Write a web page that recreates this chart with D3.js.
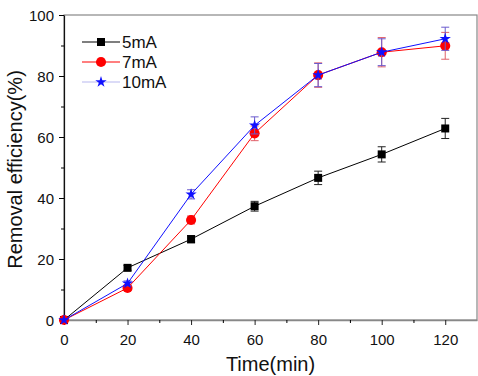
<!DOCTYPE html>
<html>
<head>
<meta charset="utf-8">
<script src="https://cdn.jsdelivr.net/npm/d3@7"></script>
<style>
	body { margin: 0; background: #fff; }
	text { font-family: "Liberation Sans", Arial, sans-serif; }
</style>
</head>
<body>
<div id="chart"></div>
<script>
// ---------- DATA ----------
const times = [0, 20, 40, 60, 80, 100, 120];
const ma5 = [0, 17.1, 26.5, 37.3, 46.6, 54.3, 62.8];
const ma5Err = [0, 0.8, 1.2, 1.6, 2.2, 2.5, 3.3];
const ma7 = [0, 10.5, 32.8, 61.2, 80.3, 87.8, 89.9];
const ma7Err = [0, 0.8, 1.3, 2.4, 4.0, 4.8, 4.4];
const ma10 = [0, 12, 41.2, 63.8, 80.3, 87.8, 92.2];
const ma10Err = [0, 0.8, 1.5, 2.8, 3.8, 4.4, 3.8];
const xTicks = [0, 20, 40, 60, 80, 100, 120];
const yTicks = [0, 20, 40, 60, 80, 100];

const width = 478;
const height = 376;
const margin = { top: 15, right: 1, bottom: 56, left: 64 };

const svg = d3
	.select("#chart")
	.append("svg")
	.attr("width", width)
	.attr("height", height);

const xScale = d3
	.scaleLinear()
	.domain([0, 130])
	.range([margin.left, width - margin.right]);
const yScale = d3
	.scaleLinear()
	.domain([0, 100])
	.range([height - margin.bottom, margin.top]);

// frame
svg.append("rect")
	.attr("x", margin.left)
	.attr("y", margin.top)
	.attr("width", width - margin.right - margin.left)
	.attr("height", height - margin.bottom - margin.top)
	.attr("fill", "none")
	.attr("stroke", "#888")
	.attr("stroke-width", 1.2);

// axes
const xAxis = svg
	.append("g")
	.attr("transform", `translate(0, ${height - margin.bottom})`)
	.call(d3.axisBottom(xScale).tickValues(xTicks).tickSize(5).tickSizeOuter(0));
svg.append("g")
	.attr("transform", `translate(0, ${height - margin.bottom})`)
	.call(d3.axisBottom(xScale).tickValues([10, 30, 50, 70, 90, 110]).tickSize(3).tickFormat(""))
	.call((g) => g.select(".domain").remove());

const yAxis = svg
	.append("g")
	.attr("transform", `translate(${margin.left}, 0)`)
	.call(d3.axisLeft(yScale).tickValues(yTicks).tickSize(5).tickSizeOuter(0));
svg.append("g")
	.attr("transform", `translate(${margin.left}, 0)`)
	.call(d3.axisLeft(yScale).tickValues([10, 30, 50, 70, 90]).tickSize(3).tickFormat(""))
	.call((g) => g.select(".domain").remove());

xAxis.select(".domain").attr("stroke", "#888").attr("stroke-width", 1.5);
xAxis.selectAll(".tick line").attr("stroke", "#222");
yAxis.select(".domain").attr("stroke", "#111").attr("stroke-width", 1.2);
svg.selectAll(".tick text")
	.attr("font-size", 15)
	.attr("fill", "#111")
	.style("font-family", "Liberation Sans, Arial, sans-serif");
xAxis.selectAll(".tick text").attr("dy", "1.1em");
yAxis.selectAll(".tick text").attr("dx", "-2").attr("dy", "0.35em");

// axis titles
svg.append("text")
	.attr("x", (margin.left + width - margin.right) / 2)
	.attr("y", 371)
	.attr("text-anchor", "middle")
	.attr("font-size", 20)
	.attr("fill", "#111")
	.text("Time(min)");
svg.append("text")
	.attr("transform", `translate(22, ${(margin.top + height - margin.bottom) / 2 + 2}) rotate(-90)`)
	.attr("text-anchor", "middle")
	.attr("font-size", 20)
	.attr("fill", "#111")
	.text("Removal efficiency(%)");

const series = [
	{ name: "5mA", vals: ma5, err: ma5Err, color: "#000", errColor: "#222", legendLine: "#000", shape: d3.symbolSquare, size: 64 },
	{ name: "7mA", vals: ma7, err: ma7Err, color: "#f00", errColor: "#e0606a", legendLine: "#f00", shape: d3.symbolCircle, size: 80 },
	{ name: "10mA", vals: ma10, err: ma10Err, color: "#1010ff", errColor: "#6a5acd", legendLine: "#b8b8f0", shape: d3.symbolStar, size: 40 },
];

const line = d3
	.line()
	.x((d) => xScale(d[0]))
	.y((d) => yScale(d[1]));

series.forEach((s) => {
	const pts = times.map((t, i) => [t, s.vals[i], s.err[i]]);
	const g = svg.append("g");
	// error bars
	pts.filter((d) => d[2] > 0).forEach((d) => {
		const x = xScale(d[0]);
		const y1 = yScale(d[1] - d[2]);
		const y2 = yScale(d[1] + d[2]);
		g.append("line").attr("x1", x).attr("x2", x).attr("y1", y1).attr("y2", y2)
			.attr("stroke", s.errColor).attr("stroke-width", 1);
		[y1, y2].forEach((y) => {
			g.append("line").attr("x1", x - 4).attr("x2", x + 4).attr("y1", y).attr("y2", y)
				.attr("stroke", s.errColor).attr("stroke-width", 1);
		});
	});
	g.append("path")
		.datum(pts)
		.attr("d", line)
		.attr("fill", "none")
		.attr("stroke", s.color)
		.attr("stroke-width", 1);
	g.selectAll(".pt")
		.data(pts)
		.enter()
		.append("path")
		.attr("transform", (d) => `translate(${xScale(d[0])}, ${yScale(d[1])})`)
		.attr("d", d3.symbol().type(s.shape).size(s.size))
		.attr("fill", s.color);
});

// legend
const legend = svg.append("g").attr("transform", "translate(82, 42)");
series.forEach((s, i) => {
	const lg = legend.append("g").attr("transform", `translate(0, ${i * 20})`);
	lg.append("line").attr("x1", 0).attr("x2", 38).attr("y1", 0).attr("y2", 0)
		.attr("stroke", s.legendLine).attr("stroke-width", 1.2);
	lg.append("path")
		.attr("transform", "translate(19, 0)")
		.attr("d", d3.symbol().type(s.shape).size(s.size))
		.attr("fill", s.color);
	lg.append("text")
		.attr("x", 40)
		.attr("y", 0)
		.attr("dy", "0.35em")
		.attr("font-size", 17)
		.attr("fill", "#111")
		.text(s.name);
});
</script>
</body>
</html>
